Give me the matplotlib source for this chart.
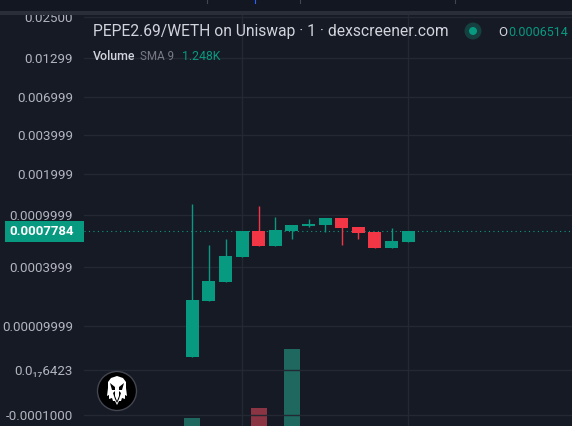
import numpy as np
import matplotlib
matplotlib.use('Agg')
import matplotlib.pyplot as plt
from matplotlib.patches import Circle, Rectangle, Polygon

plt.rcParams['font.family'] = ['Roboto', 'DejaVu Sans']

# candles
opens = [0.0000269, 0.000189, 0.000290, 0.000481, 0.000778, 0.000590, 0.000778, 0.000842, 0.000855, 0.000954, 0.000829, 0.000764, 0.000568, 0.000640]
closes = [0.000194, 0.000296, 0.000490, 0.000778, 0.000590, 0.000791, 0.000855, 0.000869, 0.000954, 0.000816, 0.000750, 0.000568, 0.000647, 0.000778]
highs = [0.001205, 0.000601, 0.000668, 0.000778, 0.00116, 0.000969, 0.000855, 0.000939, 0.000954, 0.000954, 0.000829, 0.000764, 0.000816, 0.000778]
lows = [0.0000269, 0.000189, 0.000290, 0.000481, 0.000590, 0.000590, 0.000671, 0.000829, 0.000764, 0.000601, 0.000671, 0.000568, 0.000568, 0.000640]
volumes = [0.31, 0, 0, 0, 0.69, 0, 2.96, 0, 0, 0, 0, 0, 0, 0]

tick_values = [-0.0001, 7.6423e-18, 0.00009999, 0.0003999, 0.0009999, 0.001999, 0.003999, 0.006999, 0.01299, 0.025]
tick_labels = ['-0.0001000', '0.0₁₇6423', '0.00009999', '0.0003999', '0.0009999', '0.001999', '0.003999', '0.006999', '0.01299', '0.02500']
last_price = 0.0007784

# the chart's scale is not a plain log, so pin it to where the ticks sit
scale_values = np.array([-0.000133, -0.0001, 7.6423e-18, 0.00009999, 0.0003999, 0.0007784, 0.0009999, 0.001999, 0.003999, 0.006999, 0.01299, 0.025, 0.0328])
scale_pos = 426 - np.array([426, 415, 370, 326, 267, 231, 215, 174, 135, 97, 58, 17, 0.0])
scale_x = np.arcsinh(scale_values / 1e-4)

def forward(p):
    return np.interp(np.arcsinh(np.asarray(p) / 1e-4), scale_x, scale_pos)

def inverse(v):
    return np.sinh(np.interp(v, scale_pos, scale_x)) * 1e-4

BG = '#161a25'
GRID = '#242832'
TEXT = '#b2b5be'
GREEN = '#089981'
RED = '#f23645'

fig = plt.figure(figsize=(5.72, 4.26), dpi=100, facecolor=BG)
ax = fig.add_axes([84 / 572, 0, 488 / 572, 1])
ax.set_yscale('function', functions=(forward, inverse))
ax.set_ylim(-0.000133, 0.0328)
ax.set_xlim(-6.524, 22.87)
ax.set_facecolor(BG)
for s in ax.spines.values():
    s.set_visible(False)

vol = ax.twinx()
vol.set_ylim(0, 16.4)
vol.axis('off')
ax.set_zorder(2)
vol.set_zorder(1)
ax.patch.set_visible(False)
fig.patch.set_facecolor(BG)

xs = np.arange(len(opens))
vol_colors = ['#8b3443' if c < o else '#1f685f' for o, c in zip(opens, closes)]
vol.bar(xs, volumes, width=0.964, color=vol_colors)

colors = [RED if c < o else GREEN for o, c in zip(opens, closes)]
ax.vlines(xs, lows, highs, colors=colors, linewidth=1.0, zorder=3)
ax.bar(xs, np.array(closes) - np.array(opens), bottom=opens, width=0.783, color=colors, zorder=4)
ax.axhline(last_price, color=GREEN, linewidth=0.8, linestyle=(0, (1, 3)), zorder=2)

ax.set_yticks(tick_values)
ax.set_yticklabels(tick_labels, fontsize=9.6, color=TEXT)
ax.minorticks_off()
ax.tick_params(axis='y', length=0, pad=8)
ax.set_xticks([3, 13])
ax.tick_params(axis='x', length=0, labelbottom=False)
ax.grid(True, color=GRID, linewidth=1)
ax.set_axisbelow(True)

# overlay in pixels for the header, the price tag and the logo
top = fig.add_axes([0, 0, 1, 1], zorder=5)
top.set_xlim(0, 572)
top.set_ylim(426, 0)
top.axis('off')

top.add_patch(Rectangle((0, 0), 572, 11, color='#131722', lw=0))
top.add_patch(Rectangle((0, 11), 572, 4, color='#2a2e39', lw=0))
for x, c in zip([207, 255, 300, 455], ['#434651', '#2962ff', '#434651', '#434651']):
    top.plot([x, x], [0, 3], color=c, lw=0.8)

top.add_patch(Rectangle((5, 221), 79, 21, color=GREEN, lw=0))
top.text(9, 231.5, '0.0007784', color='white', fontsize=9.5, fontweight='bold', va='center', ha='left')

top.text(93, 31.5, 'PEPE2.69/WETH on Uniswap · 1 · dexscreener.com', color='#d1d4dc', fontsize=11.28, va='center', ha='left')
top.add_patch(Circle((473, 31), 8.5, color='#15403f', lw=0))
top.add_patch(Circle((473, 31), 4, color=GREEN, lw=0))
top.text(498, 32, 'O', color='#d1d4dc', fontsize=9.5, va='center', ha='left')
top.text(508, 32, '0.0006514', color=GREEN, fontsize=9.0, va='center', ha='left')

top.text(93, 56, 'Volume', color='#d1d4dc', fontsize=8.9, fontweight='medium', va='center', ha='left')
top.text(140, 56, 'SMA 9', color='#787b86', fontsize=8.4, va='center', ha='left')
top.text(182, 56, '1.248K', color=GREEN, fontsize=8.8, va='center', ha='left')

# logo
top.add_patch(Circle((117, 391), 19.5, facecolor='black', edgecolor='#434651', lw=1))
eagle = [(111, 378), (117, 376), (123, 378), (126, 382), (126, 388), (127, 396), (125, 395), (125, 399), (122, 398), (121, 401), (119, 401), (117, 405), (115, 401), (113, 401), (112, 398), (109, 399), (109, 395), (107, 396), (108, 388), (108, 382)]
top.add_patch(Polygon(eagle, closed=True, color='white', lw=0))
top.add_patch(Polygon([(110, 383), (115, 387), (115, 390), (112, 390)], closed=True, color='black', lw=0))
top.add_patch(Polygon([(124, 383), (119, 387), (119, 390), (122, 390)], closed=True, color='black', lw=0))
top.add_patch(Polygon([(113, 393), (115, 391), (115, 396), (117, 401), (119, 396), (119, 391), (121, 393), (119, 399), (117, 403), (115, 399)], closed=True, color='black', lw=0))

fig.savefig('out.png', dpi=100, facecolor=BG)
